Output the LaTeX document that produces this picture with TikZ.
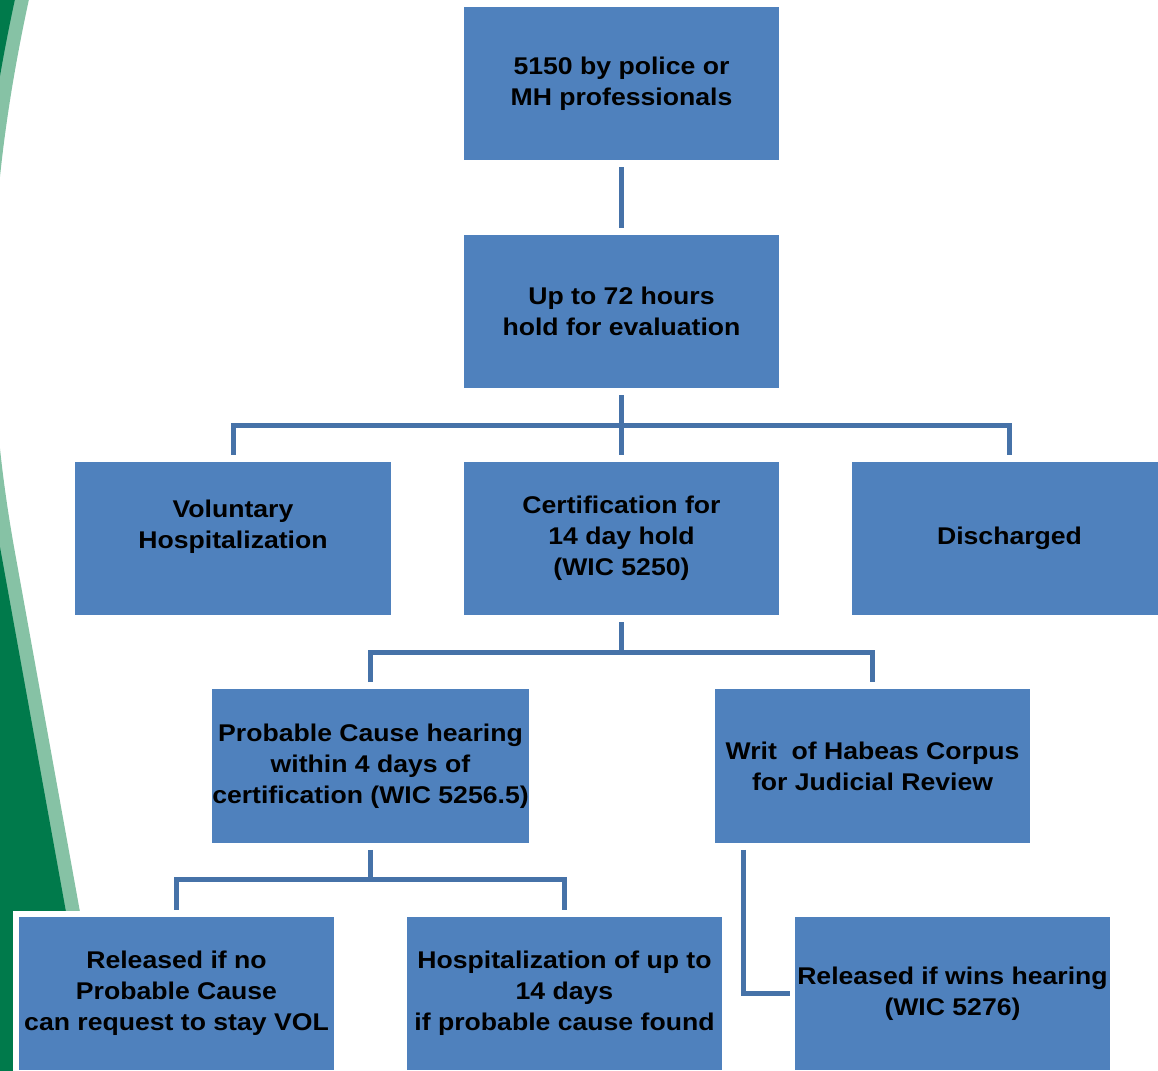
\documentclass[tikz,border=0pt]{standalone}
\usepackage{fontspec}
\setmainfont{Liberation Sans}[FakeStretch=1.1]
\usetikzlibrary{calc,positioning}
\definecolor{boxblue}{HTML}{4F81BD}
\definecolor{linkblue}{HTML}{4672A8}
\definecolor{sweepgreen}{HTML}{007A4B}
\definecolor{sweeplight}{HTML}{86C2A5}
\newcommand{\holdfont}{\bfseries\fontsize{17.2}{22}\selectfont}

\begin{document}
\begin{tikzpicture}[
    x=0.025cm, y=-0.025cm,
    font=\holdfont,
    flowbox/.style={fill=boxblue, preaction={draw=white, line width=0.3cm}, minimum width=7.875cm, minimum height=3.825cm, inner sep=0pt, align=center},
    link/.style={draw=linkblue, line width=0.125cm}
]
  \def\gap{0.175cm}
  \useasboundingbox (0,0) rectangle (1158,1071);

  % green sweep along the left edge
  \begin{scope}
    \clip (0,0) rectangle (1158,1071);
    \fill[sweeplight, xshift=0.35cm] (-200,-10) -- (17,-10) .. controls (-25,180) and (-35,350) .. (0,547) -- (100,1100) -- (-200,1100) -- cycle;
    \fill[sweepgreen] (-200,-10) -- (17,-10) .. controls (-25,180) and (-35,350) .. (0,547) -- (100,1100) -- (-200,1100) -- cycle;
  \end{scope}

  \node[flowbox] (police) at (621.5,83.5) {5150 by police or\\MH professionals};
  \node[flowbox] (hold) at (621.5,311.5) {Up to 72 hours\\hold for evaluation};
  \node[flowbox, text depth=0.727cm] (vol) at (233,538.5) {Voluntary\\Hospitalization};
  \node[flowbox] (cert) at (621.5,538.5) {Certification for\\14 day hold\\(WIC 5250)};
  \node[flowbox] (dis) at (1009.5,538.5) {Discharged};
  \node[flowbox] (pc) at (370.5,766) {Probable Cause hearing\\within 4 days of\\certification (WIC 5256.5)};
  \node[flowbox] (writ) at (872.5,766) {Writ\ \ of Habeas Corpus\\for Judicial Review};
  \node[flowbox] (rel) at (176.5,993.5) {Released if no\\Probable Cause\\can request to stay VOL};
  \node[flowbox] (hosp) at (564.5,993.5) {Hospitalization of up to\\14 days\\if probable cause found};
  \node[flowbox] (wins) at (952.5,993.5) {Released if wins hearing\\(WIC 5276)};

  % connectors
  \coordinate (busA) at ($(hold.south)!0.5!(cert.north)$);
  \coordinate (busB) at ($(cert.south)!0.5!(pc.north)$);
  \coordinate (busC) at ($(pc.south)!0.5!(rel.north)$);

  \draw[link] ([yshift=-\gap]police.south) -- ([yshift=\gap]hold.north);
  \draw[link] ([yshift=-\gap]hold.south) -- ([yshift=\gap]cert.north);
  \draw[link] ([yshift=\gap]vol.north) |- (busA) -| ([yshift=\gap]dis.north);

  \draw[link] ([yshift=-\gap]cert.south) -- (cert.south |- busB);
  \draw[link] ([yshift=\gap]pc.north) |- (busB) -| ([yshift=\gap]writ.north);

  \draw[link] ([yshift=-\gap]pc.south) -- (pc.south |- busC);
  \draw[link] ([yshift=\gap]rel.north) |- (busC) -| ([yshift=\gap]hosp.north);

  \draw[link] ([xshift=0.725cm, yshift=-\gap]writ.south west) |- ([xshift=-0.125cm]wins.west);
\end{tikzpicture}
\end{document}
